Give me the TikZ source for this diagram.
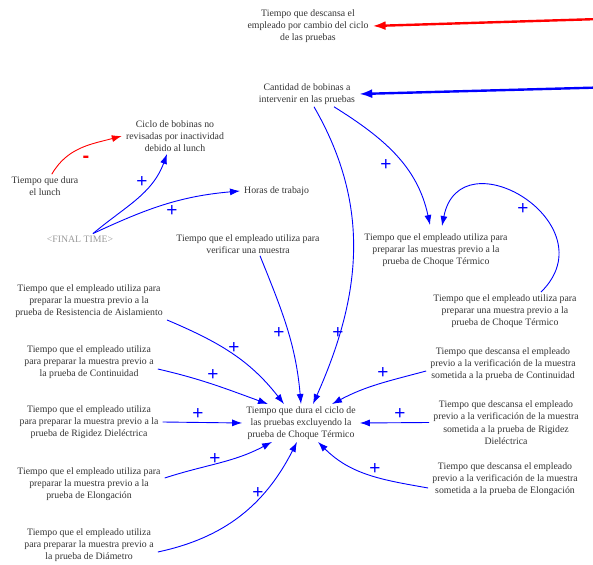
\documentclass[tikz,border=0pt]{standalone}
\usepackage{fontspec}
\setmainfont{Liberation Serif}
\newfontfamily\signfont{Liberation Sans}
\usepackage{xcolor}
\usetikzlibrary{arrows.meta}

\begin{document}
\begin{tikzpicture}[
    x=1pt, y=1pt,
    var/.style={align=center, inner xsep=4pt, inner ysep=2pt, text=black!80, font=\fontsize{9.8}{12.3}\selectfont},
    shadow var/.style={var, text=black!40},
    link/.style={draw=blue, line width=0.9pt, -{Latex[length=10pt, width=7pt]}},
    neg link/.style={link, draw=red},
    thick link/.style={line width=2.4pt, -{Latex[length=13pt, width=9pt]}},
    polarity/.style={text=blue, inner sep=0pt, font=\signfont\fontsize{19}{19}\selectfont}
]
    \useasboundingbox (0,0) rectangle (593,564);

    % Nodes
    \node[var] (descanso) at (308,538) {Tiempo que descansa el\\empleado por cambio del ciclo\\de las pruebas};
    \node[var] (bobinas) at (307,470) {Cantidad de bobinas a\\intervenir en las pruebas};
    \node[var] (ciclo) at (175,428) {Ciclo de bobinas no\\revisadas por inactividad\\debido al lunch};
    \node[var] (lunch) at (45,378) {Tiempo que dura\\el lunch};
    \node[shadow var] (final) at (80,325) {<FINAL TIME>};
    \node[var, anchor=west] (horas) at (240,373) {Horas de trabajo};
    \node[var] (verificar) at (248,320) {Tiempo que el empleado utiliza para\\verificar una muestra};
    \node[var] (prepCT) at (436,314) {Tiempo que el empleado utiliza para\\preparar las muestras previo a la\\prueba de Choque Térmico};
    \node[var] (unaCT) at (505,253) {Tiempo que el empleado utiliza para\\preparar una muestra previo a la\\prueba de Choque Térmico};
    \node[var] (prepRA) at (89,263) {Tiempo que el empleado utiliza para\\preparar la muestra previo a la\\prueba de Resistencia de Aislamiento};
    \node[var] (prepCont) at (89,202) {Tiempo que el empleado utiliza\\para preparar la muestra previo a\\la prueba de Continuidad};
    \node[var] (prepRig) at (89,142) {Tiempo que el empleado utiliza\\para preparar la muestra previo a la\\prueba de Rigidez Dieléctrica};
    \node[var] (prepElon) at (89,80) {Tiempo que el empleado utiliza para\\preparar la muestra previo a la\\prueba de Elongación};
    \node[var] (prepDiam) at (89,19) {Tiempo que el empleado utiliza\\para preparar la muestra previo a\\la prueba de Diámetro};
    \node[var] (duracion) at (301,141) {Tiempo que dura el ciclo de\\las pruebas excluyendo la\\prueba de Choque Térmico};
    \node[var] (descCont) at (503,200) {Tiempo que descansa el empleado\\previo a la verificación de la muestra\\sometida a la prueba de Continuidad};
    \node[var] (descRig) at (506,141.5) {Tiempo que descansa el empleado\\previo a la verificación de la muestra\\sometida a la prueba de Rigidez\\Dieléctrica};
    \node[var] (descElon) at (505,85) {Tiempo que descansa el empleado\\previo a la verificación de la muestra\\sometida a la prueba de Elongación};

    \coordinate (red in) at (600,545);
    \coordinate (blue in) at (600,476.5);

    % Edges
    \draw[thick link, red] (red in) -- (descanso.east);
    \draw[thick link, blue] (blue in) -- (bobinas.east);
    \draw[neg link] (lunch.60) to[out=60, in=195] (ciclo.west);
    \draw[link] ([xshift=13pt]final.north) to[out=40, in=250] ([xshift=-8pt]ciclo.south);
    \draw[link] ([xshift=13pt]final.north) to[out=25, in=185] (horas.west);
    \draw[link] ([xshift=7pt]bobinas.south) to[out=-60, in=66] ([xshift=12pt]duracion.north);
    \draw[link] ([xshift=27pt]bobinas.south) to[out=-32, in=102] ([xshift=-6pt, yshift=6pt]prepCT.north);
    \draw[link] ([xshift=36pt]unaCT.north) .. controls +(69,68) and +(18,92) .. ([xshift=6pt, yshift=5pt]prepCT.north);
    \draw[link] ([xshift=12pt]verificar.south) to[out=-68, in=95] (duracion.north);
    \draw[link] (prepRA.south east) to[out=-23, in=128] ([xshift=-17pt]duracion.north);
    \draw[link] ([yshift=-7pt]prepCont.east) to[out=-13, in=160] ([xshift=-33pt]duracion.north);
    \draw[link] (prepRig.east) -- (duracion.west);
    \draw[link] ([yshift=6pt]prepElon.east) to[out=18, in=208] ([xshift=-29pt]duracion.south);
    \draw[link] ([yshift=-7pt]prepDiam.east) to[out=12, in=243] ([xshift=-4pt]duracion.south);
    \draw[link] ([yshift=-7pt]descCont.west) to[out=195, in=28] ([xshift=31pt]duracion.north);
    \draw[link] (descRig.west) -- (duracion.east);
    \draw[link] ([yshift=-9pt]descElon.west) to[out=170, in=-45] ([xshift=17pt]duracion.south);

    % Polarities
    \node[polarity, text=red, font=\signfont\bfseries\fontsize{20}{20}\selectfont] (m lunch) at (86,405) {-};
    \node[polarity] (p ciclo) at (142,382) {+};
    \node[polarity] (p horas) at (172,353) {+};
    \node[polarity] (p prepCT) at (386,399) {+};
    \node[polarity] (p unaCT) at (523,355) {+};
    \node[polarity] (p bobinas) at (338,231) {+};
    \node[polarity] (p verificar) at (279,231) {+};
    \node[polarity] (p RA) at (234,216) {+};
    \node[polarity] (p Cont) at (213,189) {+};
    \node[polarity] (p Rig) at (198,150) {+};
    \node[polarity] (p Elon) at (215,105) {+};
    \node[polarity] (p Diam) at (258,71) {+};
    \node[polarity] (p descCont) at (383,191) {+};
    \node[polarity] (p descRig) at (400,150) {+};
    \node[polarity] (p descElon) at (375,95) {+};
\end{tikzpicture}
\end{document}
